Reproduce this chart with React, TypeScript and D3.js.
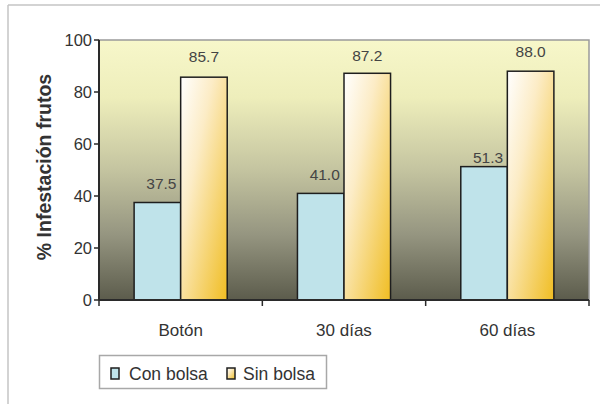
import React from "react";
import * as d3 from "d3";

const categories = ["Botón", "30 días", "60 días"];
const seriesNames = ["Con bolsa", "Sin bolsa"];
const conBolsa = [37.5, 41.0, 51.3];
const sinBolsa = [85.7, 87.2, 88.0];
const yTicks = [0, 20, 40, 60, 80, 100];
const yTitle = "% Infestación frutos";

const W = 600;
const H = 404;
const plot = { left: 99, right: 589, top: 40, bottom: 300 };
const FONT = "'Liberation Sans', Arial, sans-serif";
// label gap above each bar (layout, per series / category)
const labelGap = [
  [13.5, 13.5, 4],
  [15, 12.5, 14],
];

export default function App() {
  const x = d3
    .scaleBand<string>()
    .domain(categories)
    .range([plot.left, plot.right])
    .paddingInner(0)
    .paddingOuter(0);
  const y = d3.scaleLinear().domain([0, 100]).range([plot.bottom, plot.top]);
  const bw = x.bandwidth();
  const barW = bw * 0.285;
  const inner = (bw - 2 * barW) / 2;

  const series = [
    { name: seriesNames[0], values: conBolsa, fill: "#bfe3ea", labelDx: 4 },
    { name: seriesNames[1], values: sinBolsa, fill: "url(#sinGrad)", labelDx: 0 },
  ];

  return (
    <svg
      width={W}
      height={H}
      style={{ position: "absolute", left: 0, top: 0, background: "#fff" }}
      fontFamily={FONT}
    >
      <defs>
        <linearGradient id="bgGrad" x1="0" y1="0" x2="0" y2="1">
          <stop offset="0" stopColor="#f7f7ca" />
          <stop offset="0.22" stopColor="#eeeebb" />
          <stop offset="0.5" stopColor="#c4c4a0" />
          <stop offset="0.75" stopColor="#959580" />
          <stop offset="1" stopColor="#5c5c4c" />
        </linearGradient>
        <linearGradient id="sinGrad" x1="0" y1="0" x2="1" y2="1">
          <stop offset="0" stopColor="#ffffff" />
          <stop offset="0.35" stopColor="#fcecc6" />
          <stop offset="1" stopColor="#f0bd22" />
        </linearGradient>
      </defs>

      {/* outer frame */}
      <line x1={8} y1={5} x2={W} y2={5} stroke="#c4c4c4" strokeWidth={1.5} />
      <line x1={8} y1={5} x2={8} y2={H} stroke="#c4c4c4" strokeWidth={1.5} />

      {/* plot background */}
      <rect
        x={plot.left}
        y={plot.top}
        width={plot.right - plot.left}
        height={plot.bottom - plot.top}
        fill="url(#bgGrad)"
        stroke="#9a9a9a"
        strokeWidth={1.5}
      />

      {/* bars */}
      {series.map((s, si) =>
        categories.map((c, ci) => {
          const bx = (x(c) as number) + inner + si * barW;
          const v = s.values[ci];
          return (
            <g key={`${si}-${ci}`}>
              <rect
                x={bx}
                y={y(v)}
                width={barW}
                height={y(0) - y(v)}
                fill={s.fill}
                stroke="#1e1e1e"
                strokeWidth={1.5}
              />
              <text
                x={bx + barW / 2 + s.labelDx}
                y={y(v) - labelGap[si][ci]}
                textAnchor="middle"
                fontSize={15.5}
                fill="#444"
              >
                {v.toFixed(1)}
              </text>
            </g>
          );
        })
      )}

      {/* y axis */}
      <line x1={plot.left} y1={plot.top} x2={plot.left} y2={plot.bottom} stroke="#2a2a2a" strokeWidth={2} />
      {yTicks.map((t) => (
        <g key={t}>
          <line x1={plot.left - 5} y1={y(t)} x2={plot.left} y2={y(t)} stroke="#2a2a2a" strokeWidth={1.5} />
          <text x={plot.left - 7} y={y(t)} dy="0.35em" textAnchor="end" fontSize={16.5} fill="#333">
            {t}
          </text>
        </g>
      ))}

      {/* x axis */}
      <line x1={plot.left} y1={plot.bottom} x2={plot.right} y2={plot.bottom} stroke="#2a2a2a" strokeWidth={2} />
      {categories.map((c, i) => (
        <g key={c}>
          {i === 0 && (
            <line x1={plot.left} y1={plot.bottom} x2={plot.left} y2={plot.bottom + 6} stroke="#2a2a2a" strokeWidth={1.5} />
          )}
          <line
            x1={(x(c) as number) + bw}
            y1={plot.bottom}
            x2={(x(c) as number) + bw}
            y2={plot.bottom + 6}
            stroke="#2a2a2a"
            strokeWidth={1.5}
          />
          <text x={(x(c) as number) + bw / 2} y={336} textAnchor="middle" fontSize={17} fill="#333">
            {c}
          </text>
        </g>
      ))}

      {/* y title */}
      <text
        transform={`translate(51, ${(plot.top + plot.bottom) / 2 - 3}) rotate(-90)`}
        textAnchor="middle"
        fontSize={19.5}
        fontWeight="bold"
        fill="#333"
      >
        {yTitle}
      </text>

      {/* legend */}
      <rect x={99.5} y={355.5} width={227} height={33} fill="#fff" stroke="#a8a8a8" strokeWidth={1.5} />
      <rect x={111} y={368} width={8} height={11} fill="#bfe3ea" stroke="#1e1e1e" strokeWidth={1.5} />
      <text x={129} y={380} fontSize={17.5} fill="#333">
        {seriesNames[0]}
      </text>
      <rect x={227} y={368} width={8} height={11} fill="url(#sinGrad)" stroke="#1e1e1e" strokeWidth={1.5} />
      <text x={243} y={380} fontSize={17.5} fill="#333">
        {seriesNames[1]}
      </text>
    </svg>
  );
}
